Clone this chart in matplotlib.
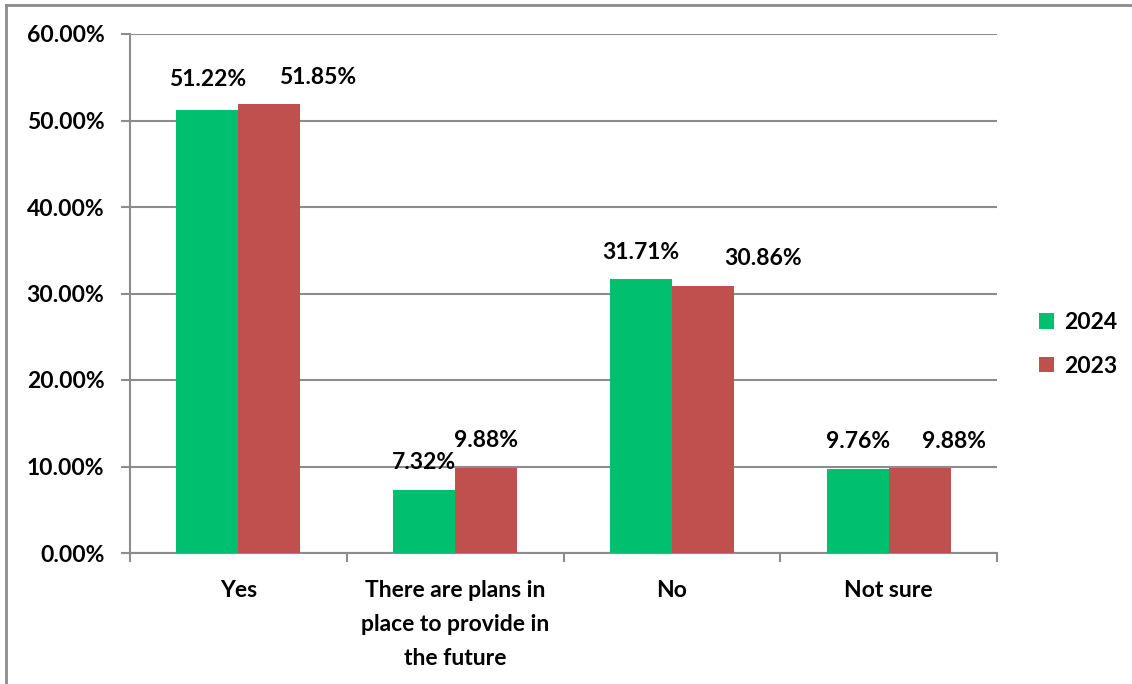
import matplotlib.pyplot as plt
import numpy as np
from matplotlib.lines import Line2D
from matplotlib.ticker import FixedLocator, PercentFormatter

categories = ["Yes", "There are plans in\nplace to provide in\nthe future", "No", "Not sure"]
vals_2024 = [51.22, 7.32, 31.71, 9.76]
vals_2023 = [51.85, 9.88, 30.86, 9.88]

green = "#00BF6F"
red = "#C0504D"
gray = "#8C8C8C"
fs = 16.5

plt.rcParams["font.family"] = ["Lato", "DejaVu Sans"]
plt.rcParams["font.weight"] = "bold"

W, H = 1132, 684
fig = plt.figure(figsize=(W / 100, H / 100), dpi=100)
ax = fig.add_axes([130 / W, (H - 553) / H, (997 - 130) / W, (553 - 34) / H])

x = np.arange(len(categories))
bw = 0.286
b1 = ax.bar(x - bw / 2, vals_2024, bw, color=green, label="2024", zorder=3)
b2 = ax.bar(x + bw / 2, vals_2023, bw, color=red, label="2023", zorder=3)

# label nudges (pixels) so neighbouring labels do not collide
dx_2023 = [48, 0, 60, 34]
dy_2024 = [30, 27, 26, 27]
dy_2023 = [27, 27, 28, 26]
for i, (r1, r2) in enumerate(zip(b1, b2)):
    ax.annotate(f"{vals_2024[i]:.2f}%", (r1.get_x() + r1.get_width() / 2, r1.get_height()),
                xytext=(0, dy_2024[i]), textcoords="offset pixels",
                ha="center", va="center", fontsize=fs, fontweight="bold", zorder=5)
    ax.annotate(f"{vals_2023[i]:.2f}%", (r2.get_x() + r2.get_width() / 2, r2.get_height()),
                xytext=(dx_2023[i], dy_2023[i]), textcoords="offset pixels",
                ha="center", va="center", fontsize=fs, fontweight="bold", zorder=5)

ax.set_xlim(-0.5, len(categories) - 0.5)
ax.set_ylim(0, 60)
ax.set_yticks(np.arange(0, 61, 10))
ax.yaxis.set_major_formatter(PercentFormatter(decimals=2))
ax.grid(axis="y", color=gray, linewidth=1.5, zorder=0)
ax.set_axisbelow(True)

ax.set_xticks(x)
ax.set_xticklabels(categories, linespacing=1.75)
ax.xaxis.set_minor_locator(FixedLocator(np.arange(-0.5, len(categories), 1.0)))
ax.tick_params(axis="x", which="major", length=0, pad=19.5, labelsize=fs)
ax.tick_params(axis="x", which="minor", length=6.5, width=1.5, color=gray)
ax.tick_params(axis="y", length=6.5, width=1.5, color=gray, pad=12, labelsize=fs)
for lab in ax.get_xticklabels() + ax.get_yticklabels():
    lab.set_fontweight("bold")
for lab in ax.get_yticklabels():
    lab.set_verticalalignment("center_baseline")

for s in ["top", "right"]:
    ax.spines[s].set_visible(False)
for s in ["left", "bottom"]:
    ax.spines[s].set_color(gray)
    ax.spines[s].set_linewidth(1.5)

leg = ax.legend(loc="center left", bbox_to_anchor=(1.048, 0.402), frameon=False,
                borderaxespad=0, borderpad=0, handlelength=0.65, handleheight=0.65,
                handletextpad=0.45, labelspacing=1.0, prop={"size": fs, "weight": "bold"})

# outer chart border
fig.add_artist(Line2D([6 / W, 6 / W], [0, (H - 5) / H], color=gray, linewidth=2))
fig.add_artist(Line2D([6 / W, 1], [(H - 5) / H, (H - 5) / H], color=gray, linewidth=2))

fig.savefig("out.png", dpi=100, facecolor="white")
